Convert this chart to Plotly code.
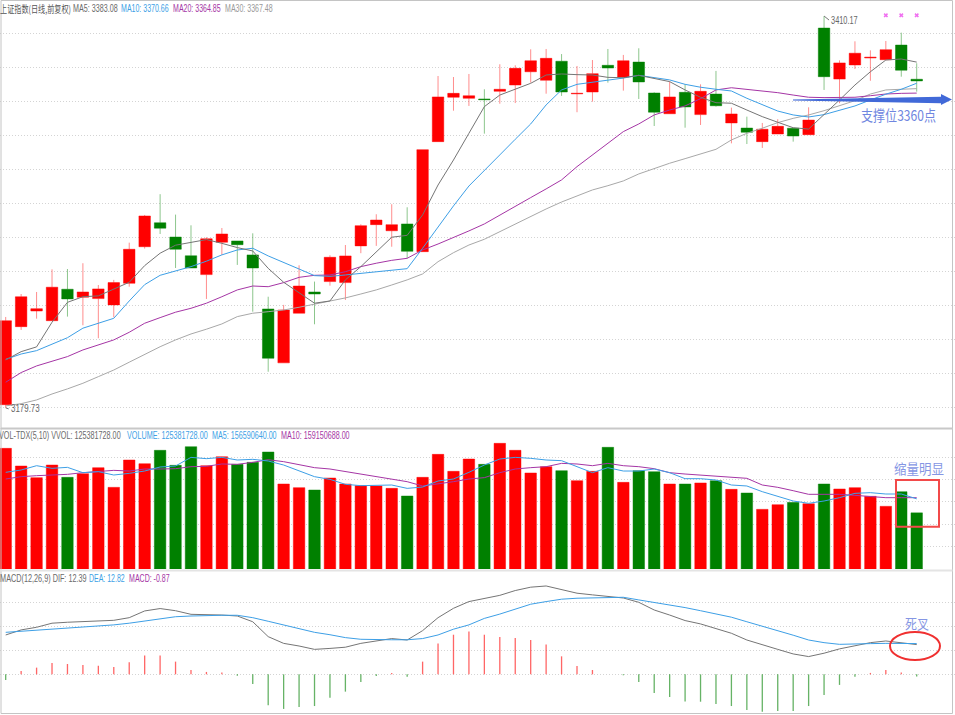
import json
import plotly.graph_objects as go
from plotly.subplots import make_subplots

# ---------- data ----------
open_ = [3181.6,3227.5,3236.7,3231.0,3249.5,3244.8,3244.0,3240.3,3253.0,3274.5,3288.6,3280.2,3269.2,3258.1,3277.1,3277.9,3269.7,3237.9,3206.2,3235.4,
         3247.9,3254.0,3253.4,3275.0,3287.5,3283.9,3287.9,3271.6,3336.3,3362.4,3361.8,3361.4,3365.9,3369.6,3377.4,3372.4,3383.6,3364.4,3365.5,3381.2,
         3374.3,3383.1,3364.9,3352.7,3365.3,3352.2,3364.3,3347.3,3344.3,3336.3,3340.8,3344.2,3340.4,3403.1,3373.1,3381.4,3385.5,3384.5,3393.1,3373.0]
high_ = [3233.2,3246.7,3247.9,3261.2,3261.4,3264.8,3252.0,3255.0,3276.9,3293.2,3305.4,3293.4,3287.1,3280.1,3285.5,3277.9,3282.4,3245.1,3240.3,3263.6,
         3254.0,3269.5,3275.5,3287.7,3293.6,3299.5,3297.7,3331.6,3374.9,3374.3,3376.1,3367.1,3381.8,3381.2,3390.6,3390.8,3387.8,3380.8,3384.3,3390.8,
         3387.3,3391.2,3365.3,3371.6,3370.0,3370.0,3377.9,3356.3,3351.0,3347.3,3349.5,3344.2,3356.5,3410.17,3384.1,3395.3,3390.0,3395.5,3400.4,3382.4]
low_ = [3179.73,3225.6,3232.2,3231.0,3233.4,3228.3,3220.7,3233.0,3251.0,3273.4,3282.0,3262.0,3262.0,3243.8,3269.7,3263.8,3236.3,3201.0,3206.2,3235.4,
        3228.9,3251.6,3243.2,3270.7,3275.0,3274.5,3267.7,3271.6,3336.3,3354.5,3357.3,3341.0,3358.6,3359.0,3371.0,3364.5,3363.2,3353.6,3359.8,3371.0,
        3366.3,3361.4,3345.5,3352.7,3344.5,3346.1,3356.9,3335.3,3334.9,3332.6,3340.8,3336.3,3340.4,3366.7,3358.9,3379.0,3372.1,3384.5,3374.5,3365.7]
close_ = [3231.0,3245.1,3238.1,3250.7,3243.8,3247.9,3249.7,3253.4,3273.0,3292.6,3285.4,3273.0,3262.0,3279.2,3282.0,3275.7,3262.0,3208.9,3237.3,3251.4,
          3246.7,3268.3,3269.1,3286.9,3290.2,3287.5,3271.8,3331.6,3362.6,3364.7,3363.3,3361.0,3367.1,3379.4,3383.9,3385.3,3365.5,3364.7,3376.3,3379.6,
          3383.9,3371.4,3353.6,3362.6,3356.7,3365.9,3357.4,3352.6,3341.8,3343.6,3345.3,3339.6,3349.0,3374.5,3382.6,3388.3,3385.9,3390.4,3378.3,3372.0]

ma5 = [3207.9,3212.8,3215.6,3230.1,3241.8,3245.1,3245.6,3249.5,3253.6,3263.4,3270.7,3275.4,3277.1,3278.7,3276.5,3274.0,3272.0,3261.8,3253.6,3247.5,
       3241.3,3242.6,3255.0,3262.8,3271.2,3280.1,3281.2,3293.2,3310.8,3325.5,3341.2,3356.9,3363.7,3367.1,3370.6,3375.5,3376.1,3375.7,3375.5,3374.1,
       3373.9,3375.3,3373.6,3371.6,3366.7,3362.4,3359.2,3358.9,3354.9,3351.0,3347.7,3344.5,3343.7,3352.0,3360.8,3369.6,3377.4,3384.3,3384.9,3383.08]
ma10 = [3208.3,3211.4,3213.4,3217.2,3221.0,3226.6,3229.5,3232.4,3242.6,3252.2,3257.7,3260.3,3262.8,3266.0,3269.7,3272.6,3273.6,3269.1,3265.4,3261.4,
        3257.5,3257.1,3257.9,3258.9,3259.8,3260.7,3261.6,3273.6,3286.3,3298.5,3310.2,3319.6,3328.5,3337.7,3346.7,3357.9,3366.7,3370.0,3371.2,3372.4,
        3373.7,3375.3,3374.1,3372.6,3370.0,3368.3,3367.1,3366.1,3361.8,3357.9,3354.3,3352.0,3350.8,3352.2,3354.9,3357.3,3360.8,3364.2,3367.1,3370.66]
ma20 = [3194.8,3200.5,3204.4,3207.3,3209.9,3213.8,3216.9,3219.7,3224.2,3229.5,3232.8,3236.0,3238.3,3241.3,3245.1,3249.1,3251.4,3251.0,3253.4,3256.5,
        3257.7,3257.9,3259.8,3262.8,3264.8,3266.5,3267.7,3272.6,3276.1,3279.8,3283.8,3287.9,3293.2,3298.1,3303.4,3308.5,3313.8,3321.6,3328.5,3335.3,
        3342.2,3346.7,3352.0,3354.9,3357.3,3361.6,3366.7,3368.0,3367.1,3366.1,3365.1,3363.7,3362.4,3362.2,3362.2,3362.4,3363.3,3364.3,3364.7,3364.85]
ma30 = [3180.9,3182.2,3184.4,3187.9,3190.9,3194.2,3198.1,3202.0,3206.6,3211.4,3215.7,3219.7,3223.2,3226.0,3229.1,3233.4,3235.4,3236.3,3237.3,3238.9,
        3240.7,3242.6,3244.4,3246.7,3249.1,3252.0,3255.0,3258.5,3265.7,3271.0,3275.5,3278.9,3283.4,3287.9,3292.2,3296.7,3300.8,3304.4,3307.9,3310.4,
        3313.2,3317.3,3320.6,3323.6,3326.3,3328.9,3331.8,3337.3,3341.2,3344.2,3347.5,3350.0,3352.0,3354.5,3357.3,3360.4,3364.3,3366.7,3367.1,3367.48]

volume_m = [269.3,229.9,203.9,232.1,204.6,212.8,226.2,182.3,243.3,235.1,264.9,231.4,273.0,230.6,250.7,233.6,238.1,261.1,189.7,181.5,
            176.3,203.1,189.7,186.0,185.3,180.0,162.9,204.6,255.9,218.0,245.5,233.6,280.5,264.9,214.3,228.4,219.5,197.2,218.0,271.6,
            193.4,219.5,217.2,189.7,189.7,192.0,197.2,177.8,169.6,133.2,143.6,148.8,145.8,189.7,178.6,181.5,162.2,139.9,172.6,125.38]
vol_ma5 = [215.8,221.0,230.6,224.7,226.9,215.0,217.2,209.8,213.5,218.7,227.7,229.9,249.2,246.3,249.2,243.3,244.8,241.1,232.1,218.7,
           206.1,200.1,189.0,186.0,187.5,187.5,180.0,183.0,196.4,200.9,215.8,232.1,245.5,249.2,247.0,243.3,241.8,228.4,215.0,226.2,
           218.7,218.7,223.2,215.0,201.6,201.6,198.6,187.5,185.3,172.6,162.9,151.8,146.6,151.8,159.2,168.9,170.4,167.4,167.4,156.59]
vol_ma10 = [200.9,206.1,208.3,209.8,211.3,215.0,217.2,220.2,218.7,223.2,223.2,223.9,228.4,229.2,234.4,233.6,238.1,244.0,239.6,233.6,
            226.2,223.2,217.2,212.0,206.1,200.9,194.9,185.3,189.7,194.9,200.9,203.9,215.0,223.2,226.2,228.4,235.8,234.4,230.6,235.8,
            230.6,228.4,223.9,215.0,212.0,209.8,207.6,203.9,202.4,187.5,182.3,174.8,166.7,166.7,166.7,164.4,162.2,159.2,159.2,159.15]

dif = [16.4,18.5,19.6,21.3,21.7,21.9,22.2,22.5,23.6,26.4,27.4,26.5,25.0,25.0,24.7,24.3,21.9,15.7,12.9,11.8,
       10.4,10.8,11.3,12.9,14.0,14.9,14.3,18.2,23.6,27.5,30.3,31.5,32.9,34.9,36.3,36.8,35.4,33.8,33.1,32.4,
       31.8,30.0,26.8,24.7,22.4,21.0,19.2,17.1,14.3,12.2,10.4,8.5,7.4,8.8,10.6,11.9,13.2,13.9,13.2,12.39]
dea = [17.5,17.9,18.5,19.0,19.3,19.7,20.1,20.6,21.3,22.1,23.1,24.0,24.3,24.6,24.6,24.6,23.6,22.1,20.6,19.0,
       17.5,16.5,15.3,14.6,14.4,14.4,14.4,14.9,16.4,18.8,20.6,23.3,25.1,27.1,29.2,30.3,31.3,31.7,31.9,32.1,
       32.1,31.0,30.0,28.9,27.8,26.5,25.1,23.8,21.9,20.1,18.2,16.3,14.3,13.2,12.5,12.5,12.8,12.9,12.9,12.82]
macd = [-2.4,1.4,2.8,4.7,4.3,3.9,3.6,3.1,5.0,7.8,7.8,5.3,1.8,1.0,0.8,-0.6,-4.0,-12.9,-14.4,-13.6,
        -13.2,-9.7,-7.2,-3.2,-0.7,0.6,-1.0,5.3,12.8,16.5,17.8,16.5,15.6,15.1,14.3,12.4,7.5,3.5,1.8,0.0,
        -0.4,-3.2,-7.8,-9.4,-11.3,-11.4,-12.4,-13.2,-14.9,-15.6,-15.3,-15.3,-13.2,-8.6,-4.4,-1.0,0.6,1.8,0.8,-0.87]

price_ticks = [3180,3200,3220,3240,3260,3280,3300,3320,3340,3360,3380,3400]
volume_ticks = [50,100,150,200,250]
macd_ticks = [0,10,20,30]
signal_days = [57,58,59]
signal_level = [3410.6,3410.6,3410.6]

days = list(range(len(close_)))

# ---------- styles and layout helpers ----------
W, H = 955, 715
RED, GREEN = "#ff0000", "#008000"
RED_EDGE, GREEN_EDGE = "rgba(255,0,0,0.45)", "rgba(0,128,0,0.45)"
C_DARK, C_BLUE, C_PURPLE, C_GREY = "#757575", "#3d9fe6", "#a535a5", "#a8a8a8"
CJK = "Noto Sans CJK SC"
SANS = "Liberation Sans, sans-serif"

px = lambda v: v / W
py = lambda v: 1 - v / H

fig = make_subplots(rows=3, cols=1, shared_xaxes=True)

fig.add_trace(go.Candlestick(
    x=days, open=open_, high=high_, low=low_, close=close_,
    increasing=dict(fillcolor=RED, line=dict(color=RED_EDGE, width=1)),
    decreasing=dict(fillcolor=GREEN, line=dict(color=GREEN_EDGE, width=1)),
    whiskerwidth=0, showlegend=False, hoverinfo="skip"), row=1, col=1)

for vals, col in ((ma30, C_GREY), (ma20, C_PURPLE), (ma10, C_BLUE), (ma5, C_DARK)):
    fig.add_trace(go.Scatter(x=days, y=vals, mode="lines", line=dict(color=col, width=1),
                             showlegend=False, hoverinfo="skip"), row=1, col=1)

fig.add_trace(go.Scatter(x=signal_days, y=signal_level, mode="markers",
                         marker=dict(symbol="x", size=4, color="#f070f0", line=dict(width=0)),
                         showlegend=False, hoverinfo="skip"), row=1, col=1)

up = [c >= o for c, o in zip(close_, open_)]
fig.add_trace(go.Bar(x=days, y=volume_m, width=0.745,
                     marker=dict(color=[RED if u else GREEN for u in up],
                                 line=dict(color=[RED_EDGE if u else GREEN_EDGE for u in up], width=1)),
                     showlegend=False, hoverinfo="skip"), row=2, col=1)
for vals, col in ((vol_ma10, C_PURPLE), (vol_ma5, C_BLUE)):
    fig.add_trace(go.Scatter(x=days, y=vals, mode="lines", line=dict(color=col, width=1),
                             showlegend=False, hoverinfo="skip"), row=2, col=1)

fig.add_trace(go.Bar(x=days, y=macd, width=0.085,
                     marker=dict(color=["rgba(255,0,0,0.6)" if m >= 0 else "rgba(0,128,0,0.6)" for m in macd],
                                 line=dict(width=0)),
                     showlegend=False, hoverinfo="skip"), row=3, col=1)
for vals, col in ((dif, C_DARK), (dea, C_BLUE)):
    fig.add_trace(go.Scatter(x=days, y=vals, mode="lines", line=dict(color=col, width=1),
                             showlegend=False, hoverinfo="skip"), row=3, col=1)

x_range = [-0.369, 61.48]
for r in (1, 2, 3):
    fig.update_xaxes(range=x_range, domain=[0, 1], showgrid=False, showticklabels=False, ticks="",
                     showline=False, zeroline=False, rangeslider_visible=False, row=r, col=1)

grid = dict(showgrid=True, gridcolor="#d4d4d4", gridwidth=1, griddash="1px,2px", showticklabels=False,
            ticks="", showline=False, zeroline=False)
fig.update_yaxes(domain=[py(428), py(0)], range=[3167.9, 3419.6], tickmode="array", tickvals=price_ticks, **grid, row=1, col=1)
fig.update_yaxes(domain=[py(569), py(429)], range=[0, 312.5], tickmode="array", tickvals=volume_ticks, **grid, row=2, col=1)
fig.update_yaxes(domain=[py(713), py(571)], range=[-16.1, 43.04], tickmode="array", tickvals=macd_ticks, **grid, row=3, col=1)

text_widths = {}  # the reference's text is horizontally condensed; width each string is fitted to

def label(x, y, text, color, width, size=10, font=SANS):
    text_widths[text] = width
    fig.add_annotation(xref="paper", yref="paper", x=px(x), y=py(y), text=text, showarrow=False,
                       xanchor="left", yanchor="middle", font=dict(family=font, size=size, color=color),
                       borderpad=0, borderwidth=0)

label(0, 8, "上证指数(日线,前复权)", "#555555", 71, 10, CJK)
label(73, 8, "MA5: 3383.08", "#6a6a6a", 45)
label(121, 8, "MA10: 3370.66", C_BLUE, 48)
label(173, 8, "MA20: 3364.85", C_PURPLE, 48)
label(225, 8, "MA30: 3367.48", "#999999", 48)
label(-1, 435, "VOL-TDX(5,10) VVOL: 125381728.00", "#6a6a6a", 122)
label(127, 435, "VOLUME: 125381728.00", C_BLUE, 81)
label(212, 435, "MA5: 156590640.00", C_BLUE, 65)
label(281, 435, "MA10: 159150688.00", C_PURPLE, 69)
label(0, 578, "MACD(12,26,9) DIF: 12.39", "#6a6a6a", 87)
label(89, 578, "DEA: 12.82", C_BLUE, 36)
label(129, 578, "MACD: -0.87", C_PURPLE, 41)

# extreme price labels
text_widths["3410.17"] = 27
text_widths["3179.73"] = 29
fig.add_annotation(x=days[53], y=max(high_), xref="x", yref="y", ax=5, ay=4, showarrow=True, arrowhead=0,
                   arrowwidth=1, arrowcolor="#777777", text="3410.17", xanchor="left", yanchor="middle",
                   font=dict(family=SANS, size=10, color="#666666"))
fig.add_annotation(x=days[0], y=min(low_), xref="x", yref="y", ax=3, ay=1, showarrow=True, arrowhead=0,
                   arrowwidth=1, arrowcolor="#777777", text="3179.73", xanchor="left", yanchor="middle",
                   font=dict(family=SANS, size=10, color="#666666"))

# hand-drawn notes
label(861, 114, "支撑位3360点", "#6f86e0", 75, 15, CJK)
label(894, 468, "缩量明显", "#8596e4", 50, 14, CJK)
label(905, 623, "死叉", "#8596e4", 24, 14, CJK)

def pth(points):
    return "M" + " L".join(f"{px(a):.5f},{py(b):.5f}" for a, b in points) + " Z"

shapes = [
    dict(type="path", xref="paper", yref="paper", line=dict(width=0), fillcolor="#4169d8",
         path=pth([(793, 99.5), (941, 96.7), (941, 94), (952, 99.5), (941, 105), (941, 103.3), (793, 100.5)])),
    dict(type="rect", xref="paper", yref="paper", x0=px(896), x1=px(939), y0=py(526.7), y1=py(480),
         line=dict(color="#f24a4a", width=2)),
    dict(type="circle", xref="paper", yref="paper", x0=px(890), x1=px(940), y0=py(660), y1=py(632),
         line=dict(color="#f03030", width=2)),
    # panel frames
    dict(type="rect", xref="paper", yref="paper", x0=px(1), x1=px(952.5), y0=py(713.5), y1=py(0.5),
         line=dict(color="#c4c4c4", width=1)),
    dict(type="rect", xref="paper", yref="paper", x0=px(1), x1=px(952.5), y0=py(429), y1=py(428),
         line=dict(color="#c8c8c8", width=1), fillcolor="#c8c8c8"),
    dict(type="rect", xref="paper", yref="paper", x0=px(1), x1=px(952.5), y0=py(571.5), y1=py(569.5),
         line=dict(width=0), fillcolor="#e4e4e4"),
]

fig.update_layout(width=W, height=H, margin=dict(l=0, r=0, t=0, b=0), paper_bgcolor="white",
                  plot_bgcolor="white", showlegend=False, shapes=shapes, boxgap=0.255, boxgroupgap=0,
                  barmode="overlay", font=dict(family=SANS), hovermode=False)

post = """
document.body.style.margin='0';
document.documentElement.style.overflow='hidden';
var widths = %s;
document.querySelectorAll('.annotation-text').forEach(function (el) {
  var w = widths[el.textContent];
  if (!w) return;
  var b = el.getBBox();
  var sx = w / b.width;
  el.setAttribute('transform', 'translate(' + b.x + ',0) scale(' + sx + ',1) translate(' + (-b.x) + ',0)');
  var rect = el.parentNode.parentNode.querySelector('rect.bg');
  if (rect) rect.setAttribute('width', w);
});
""" % json.dumps(text_widths, ensure_ascii=False)

fig.write_html("out.html", config={"displayModeBar": False}, post_script=post)
